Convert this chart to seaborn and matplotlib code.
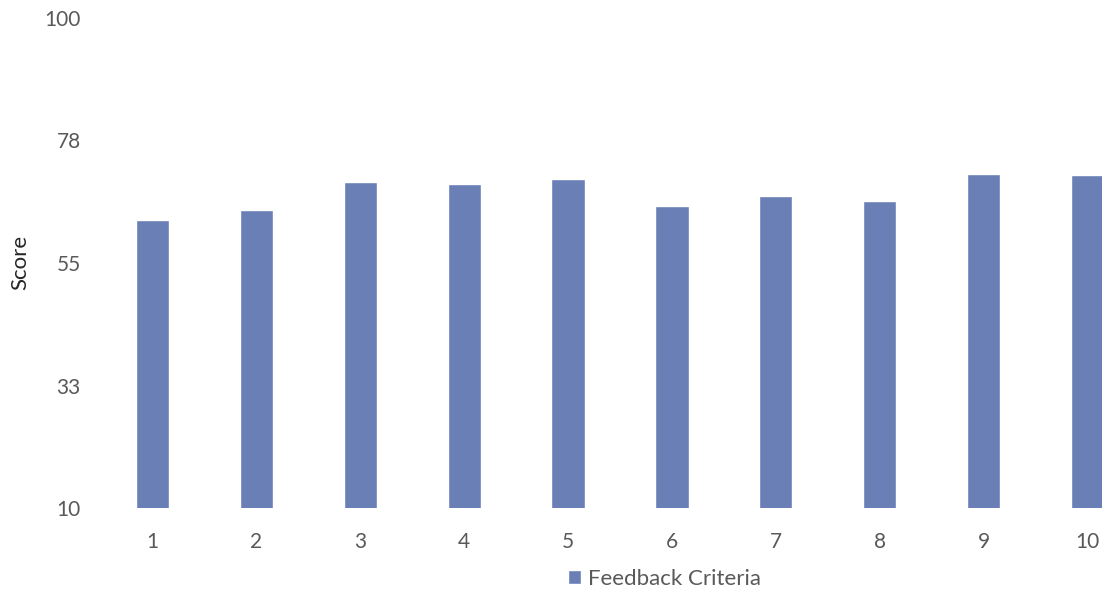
import numpy as np
import pandas as pd
import seaborn as sns
import matplotlib.pyplot as plt

# Data
criteria = ['1', '2', '3', '4', '5', '6', '7', '8', '9', '10']
scores = [62.9, 64.7, 69.8, 69.6, 70.4, 65.5, 67.3, 66.3, 71.3, 71.2]
y_ticks = [10, 32.5, 55, 77.5, 100]
y_tick_labels = ['10', '33', '55', '78', '100']
series_name = 'Feedback Criteria'

data = pd.DataFrame({'criteria': criteria, 'score': scores})

sns.set_theme(style='white')
plt.rcParams['font.family'] = ['Lato', 'DejaVu Sans']

bar_color = '#6a7fb6'
text_color = '#595959'

fig = plt.figure(figsize=(11.02, 5.92), dpi=100)
ax = fig.add_axes([100 / 1102, 84 / 592, 1002 / 1102, 490 / 592])

sns.barplot(data=data, x='criteria', y='score', color=bar_color,
            width=0.32, saturation=1, label=series_name, ax=ax)
if ax.get_legend() is not None:
    ax.get_legend().remove()

ax.set_xlim(-0.505, 9.139)
ax.set_ylim(10, 100)
ax.set_yticks(y_ticks)
ax.set_yticklabels(y_tick_labels)
ax.set_xlabel('')
ax.set_ylabel('')
ax.tick_params(axis='y', length=0, pad=14, labelsize=15, labelcolor=text_color)
ax.tick_params(axis='x', length=0, pad=17, labelsize=15, labelcolor=text_color)
sns.despine(ax=ax, left=True, bottom=True)
ax.grid(False)

fig.text(20 / 1102, 1 - 262 / 592, 'Score', rotation=90, ha='center', va='center',
         fontsize=16, color='#262626')

handles, labels = ax.get_legend_handles_labels()
fig.legend(handles, labels, loc='center', bbox_to_anchor=(664 / 1102, 1 - 579 / 592),
           frameon=False, handlelength=0.6, handleheight=0.6, handletextpad=0.3,
           fontsize=16, labelcolor=text_color)

plt.savefig('out.png', dpi=100)
